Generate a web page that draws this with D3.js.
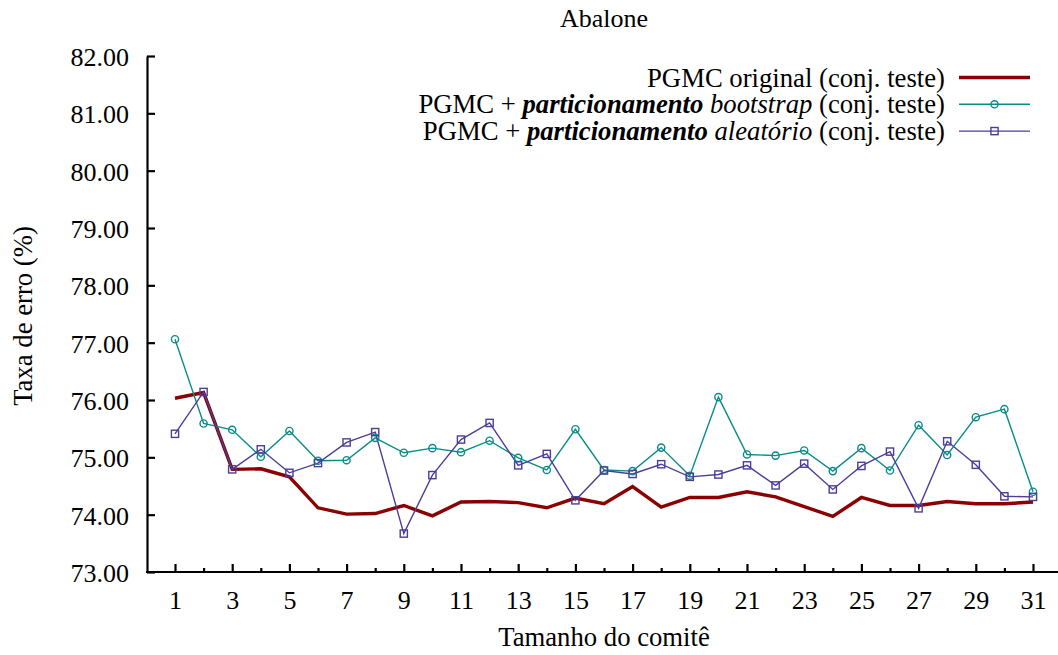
<!DOCTYPE html>
<html>
<head>
<meta charset="utf-8">
<script src="https://cdn.jsdelivr.net/npm/d3@7/dist/d3.min.js"></script>
<style>
  html, body { margin: 0; padding: 0; background: #fff; }
  svg { display: block; }
</style>
</head>
<body>
<svg id="chart" width="1058" height="655"></svg>
<script>
// Committee sizes (x) and error rates (%) for the three configurations
const sizes = d3.range(1, 32);
const original = [76.03, 76.13, 74.79, 74.80, 74.66, 74.12, 74.01, 74.02, 74.16, 73.98,
                  74.22, 74.23, 74.21, 74.12, 74.29, 74.19, 74.49, 74.13, 74.30, 74.30,
                  74.40, 74.31, 74.14, 73.97, 74.30, 74.16, 74.16, 74.23, 74.19, 74.19, 74.22];
const bootstrap = [77.06, 75.59, 75.48, 75.01, 75.46, 74.94, 74.95, 75.34, 75.08, 75.16,
                   75.09, 75.29, 74.99, 74.78, 75.49, 74.78, 74.76, 75.17, 74.68, 76.05,
                   75.05, 75.03, 75.12, 74.76, 75.16, 74.77, 75.56, 75.04, 75.70, 75.84, 74.40];
const aleatorio = [75.41, 76.14, 74.79, 75.14, 74.73, 74.90, 75.26, 75.44, 73.67, 74.69,
                   75.31, 75.60, 74.86, 75.06, 74.25, 74.77, 74.71, 74.88, 74.66, 74.70,
                   74.86, 74.51, 74.89, 74.44, 74.85, 75.10, 74.11, 75.28, 74.87, 74.32, 74.31];
const yTicks = [73, 74, 75, 76, 77, 78, 79, 80, 81, 82];
const xMajor = sizes.filter(d => d % 2 === 1);
const xMinor = sizes.filter(d => d % 2 === 0);

const svg = d3.select("#chart");
const x = d3.scaleLinear().domain([1, 31]).range([175, 1033]);
const y = d3.scaleLinear().domain([73, 82]).range([572, 56]);

const RED = "#8b0000", TEAL = "#0a8c8a", PURPLE = "#4b3e9a";
const FS = 26, FS_LABEL = 26.7;
const FONT = "'Liberation Serif', 'Times New Roman', Times, serif";

// Title
svg.append("text").attr("x", 604).attr("y", 27).attr("text-anchor", "middle")
  .style("font-family", FONT).style("font-size", FS + "px").text("Abalone");

// Y axis
const yAxis = svg.append("g").attr("transform", "translate(147,0)")
  .call(d3.axisLeft(y).tickValues(yTicks).tickSizeInner(-8).tickSizeOuter(0)
        .tickPadding(18).tickFormat(d3.format(".2f")));
yAxis.select(".domain").attr("stroke", "#000").attr("stroke-width", 2.2);
yAxis.selectAll(".tick line").attr("stroke", "#000").attr("stroke-width", 2.2);
yAxis.selectAll(".tick text").style("font-size", FS + "px").style("font-family", FONT)
  .attr("fill", "#000").attr("dy", "0.36em");

// X axis: labelled odd ticks, shorter even ticks
const xAxis = svg.append("g").attr("transform", "translate(0,572)")
  .call(d3.axisBottom(x).tickValues(xMajor).tickSizeInner(-8).tickSizeOuter(0)
        .tickPadding(19).tickFormat(d3.format("d")));
xAxis.select(".domain").remove();
xAxis.selectAll(".tick line").attr("stroke", "#000").attr("stroke-width", 2.2);
xAxis.selectAll(".tick text").style("font-size", FS + "px").style("font-family", FONT)
  .attr("fill", "#000").attr("dy", "0.71em");
const xAxisMinor = svg.append("g").attr("transform", "translate(0,572)")
  .call(d3.axisBottom(x).tickValues(xMinor).tickSizeInner(-4).tickSizeOuter(0).tickFormat(""));
xAxisMinor.select(".domain").remove();
xAxisMinor.selectAll(".tick line").attr("stroke", "#000").attr("stroke-width", 2.2);
svg.append("line").attr("x1", 146).attr("x2", 1058).attr("y1", 572).attr("y2", 572)
  .attr("stroke", "#000").attr("stroke-width", 2.2);

// Axis titles
svg.append("text").attr("x", 604).attr("y", 646).attr("text-anchor", "middle")
  .style("font-family", FONT).style("font-size", FS_LABEL + "px").text("Tamanho do comitê");
svg.append("text").attr("transform", "translate(32,316) rotate(-90)").attr("text-anchor", "middle")
  .style("font-family", FONT).style("font-size", FS_LABEL + "px").text("Taxa de erro (%)");

// Series
const line = d3.line().x((d, i) => x(sizes[i])).y(d => y(d));
svg.append("path").datum(original).attr("d", line).attr("fill", "none")
  .attr("stroke", RED).attr("stroke-width", 3.4).attr("stroke-linejoin", "miter");
svg.append("path").datum(bootstrap).attr("d", line).attr("fill", "none")
  .attr("stroke", TEAL).attr("stroke-width", 1.4);
svg.append("path").datum(aleatorio).attr("d", line).attr("fill", "none")
  .attr("stroke", PURPLE).attr("stroke-width", 1.4);

svg.append("g").selectAll("circle").data(bootstrap).join("circle")
  .attr("cx", (d, i) => x(sizes[i])).attr("cy", d => y(d)).attr("r", 3.6)
  .attr("fill", "none").attr("stroke", TEAL).attr("stroke-width", 1.4);
svg.append("g").selectAll("rect").data(aleatorio).join("rect")
  .attr("x", (d, i) => x(sizes[i]) - 3.6).attr("y", d => y(d) - 3.6)
  .attr("width", 7.2).attr("height", 7.2)
  .attr("fill", "none").attr("stroke", PURPLE).attr("stroke-width", 1.4);

// Legend
const legend = [
  { parts: [["PGMC original (conj. teste)", "normal", "normal"]], color: RED, width: 3.4, marker: null },
  { parts: [["PGMC + ", "normal", "normal"], ["particionamento", "bold", "italic"],
            [" bootstrap", "normal", "italic"], [" (conj. teste)", "normal", "normal"]],
    color: TEAL, width: 1.4, marker: "circle" },
  { parts: [["PGMC + ", "normal", "normal"], ["particionamento", "bold", "italic"],
            [" aleatório", "normal", "italic"], [" (conj. teste)", "normal", "normal"]],
    color: PURPLE, width: 1.4, marker: "square" }
];
legend.forEach((item, i) => {
  const cy = 77.5 + i * 26.8;
  const t = svg.append("text").attr("x", 945).attr("y", cy + 9).attr("text-anchor", "end")
    .style("font-family", FONT).style("font-size", FS_LABEL + "px").style("white-space", "pre");
  item.parts.forEach(p => t.append("tspan").style("font-weight", p[1]).style("font-style", p[2]).text(p[0]));
  svg.append("line").attr("x1", 959).attr("x2", 1030).attr("y1", cy).attr("y2", cy)
    .attr("stroke", item.color).attr("stroke-width", item.width);
  if (item.marker === "circle") {
    svg.append("circle").attr("cx", 994.5).attr("cy", cy).attr("r", 3.6)
      .attr("fill", "none").attr("stroke", item.color).attr("stroke-width", 1.4);
  } else if (item.marker === "square") {
    svg.append("rect").attr("x", 994.5 - 3.6).attr("y", cy - 3.6).attr("width", 7.2).attr("height", 7.2)
      .attr("fill", "none").attr("stroke", item.color).attr("stroke-width", 1.4);
  }
});
</script>
</body>
</html>
